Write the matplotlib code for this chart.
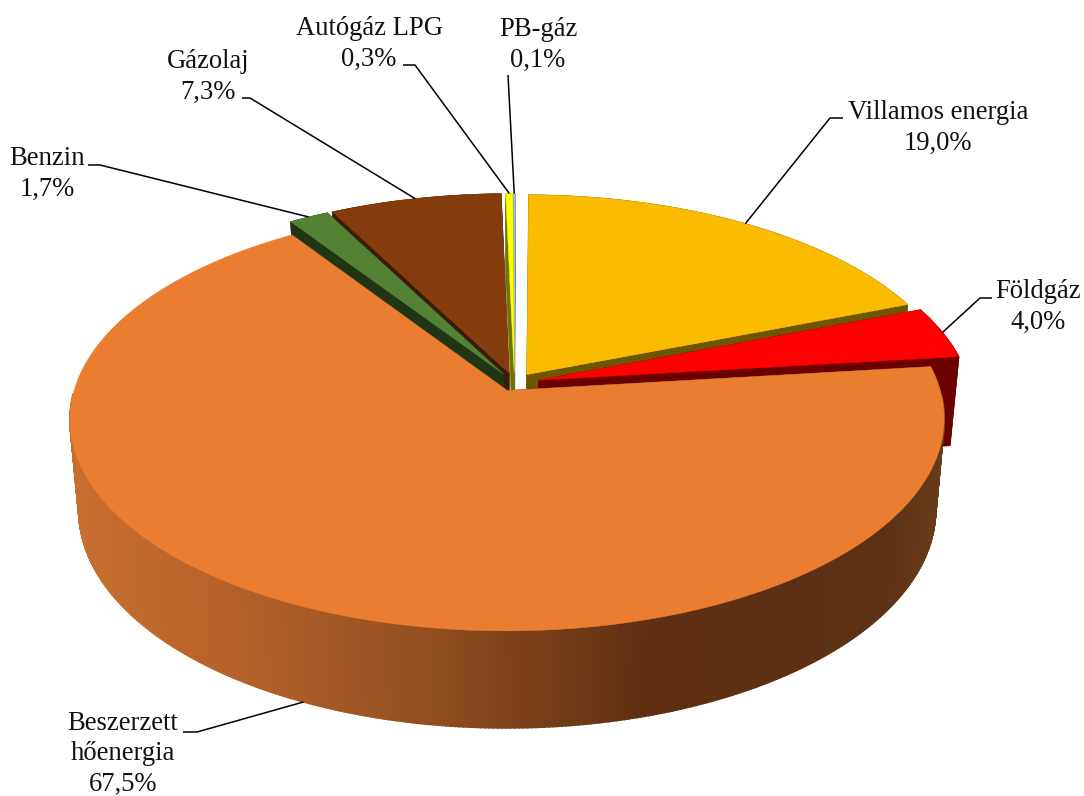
import numpy as np
import matplotlib
matplotlib.use("Agg")
import matplotlib.pyplot as plt
from matplotlib.patches import Polygon

labels = ['Villamos energia', 'Földgáz', 'Beszerzett\nhőenergia', 'Benzin', 'Gázolaj', 'Autógáz LPG', 'PB-gáz']
values = [19.0, 4.0, 67.5, 1.7, 7.3, 0.3, 0.1]

top_colors = ['#FBBC00', '#FF0000', '#EB7D31', '#548235', '#843C0C', '#FFFF00', '#9DC3E6']
wall_colors = ['#6E5500', '#6B0000', '#6B3A16', '#1F3514', '#3D1B06', '#727200', '#50708F']
explode = [0.05, 0.058, 0.04, 0.05, 0.05, 0.05, 0.05]
first_angle = 0.5

# scene -> pixel projection
cx, cy = 514.5, 383
rx, ry = 431, 206
persp = 0.134
height = 90
shrink = 0.98


def project(x, y, bottom=False):
    d = 1 + persp * y
    px = rx * x / d
    py = cy - ry * y / d
    if bottom:
        px = px * shrink
        py = py + height / np.sqrt(d)
    return cx + px, py


def rim(a, e, mid, bottom=False):
    # a, mid in degrees clockwise from 12 o'clock
    x = np.sin(np.radians(a)) + e * np.sin(np.radians(mid))
    y = np.cos(np.radians(a)) + e * np.cos(np.radians(mid))
    return project(x, y, bottom)


def apex(e, mid, bottom=False):
    return project(e * np.sin(np.radians(mid)), e * np.cos(np.radians(mid)), bottom)


fig = plt.figure(figsize=(10.84, 7.96), dpi=100)
ax = fig.add_axes([0, 0, 1, 1])
ax.set_xlim(0, 1084)
ax.set_ylim(796, 0)
ax.axis('off')

edges = first_angle + np.concatenate([[0], np.cumsum(values) * 3.6])
mids = (edges[:-1] + edges[1:]) / 2

# orange wall shading, left to right
shade_x = [60, 200, 400, 650, 880, 950]
shade_c = np.array([[200, 112, 48], [186, 100, 42], [152, 82, 34], [94, 47, 18], [92, 49, 20], [105, 60, 26]])


def draw_slice(i, z):
    a0, a1, m, e = edges[i], edges[i + 1], mids[i], explode[i]
    ang = np.linspace(a0, a1, max(int(a1 - a0) * 2, 3))
    tx, ty = rim(ang, e, m)
    bx, by = rim(ang, e, m, True)
    ax0, ay0 = apex(e, m)
    ax1, ay1 = apex(e, m, True)
    # radial walls
    for j in [0, -1]:
        ax.add_patch(Polygon([(ax0, ay0), (tx[j], ty[j]), (bx[j], by[j]), (ax1, ay1)],
                             fc=wall_colors[i], ec=wall_colors[i], lw=0.4, zorder=z))
    # outer wall
    for j in range(len(ang) - 1):
        c = wall_colors[i]
        lw = 0.4
        if i == 2:
            # back part is hidden under the top, its stroke would show round the rim
            if np.cos(np.radians(ang[j])) > -0.02:
                continue
            xm = (tx[j] + tx[j + 1]) / 2
            c = tuple(np.interp(xm, shade_x, shade_c[:, k]) / 255 for k in range(3))
            lw = 1.2
        ax.add_patch(Polygon([(tx[j], ty[j]), (tx[j + 1], ty[j + 1]), (bx[j + 1], by[j + 1]), (bx[j], by[j])],
                             fc=c, ec=c, lw=lw, zorder=z))
    # top
    pts = [(ax0, ay0)] + list(zip(tx, ty))
    ax.add_patch(Polygon(pts, fc=top_colors[i], ec=top_colors[i], lw=0.3, zorder=z + 0.5))


for z, i in enumerate([6, 5, 4, 3, 0, 1, 2]):
    draw_slice(i, z + 1)

# data labels: text centre, leader elbow and end of the horizontal stub
label_pos = [(938, 128), (1038, 307), (123, 754), (47, 174), (208, 77), (369, 44), (538, 45)]
elbows = [(830, 118), (980, 298), (197, 732), (100, 165), (250, 98), (415, 65), (508, 75)]
stubs = [(843, 118), (992, 298), (183, 732), (88, 165), (242, 98), (403, 65), (508, 75)]

for i in range(len(values)):
    txt = labels[i] + '\n' + ('%.1f%%' % values[i]).replace('.', ',')
    ax.text(label_pos[i][0], label_pos[i][1], txt, ha='center', va='center', ma='center',
            fontsize=19.2, family='Liberation Serif', color='#111111', linespacing=1.3, zorder=20)
    end = rim(mids[i], explode[i], mids[i], bottom=(i == 2))
    ax.plot([stubs[i][0], elbows[i][0], end[0]], [stubs[i][1], elbows[i][1], end[1]],
            color='black', lw=1.1, zorder=15, solid_capstyle='butt')

fig.savefig('out.png', dpi=100)
